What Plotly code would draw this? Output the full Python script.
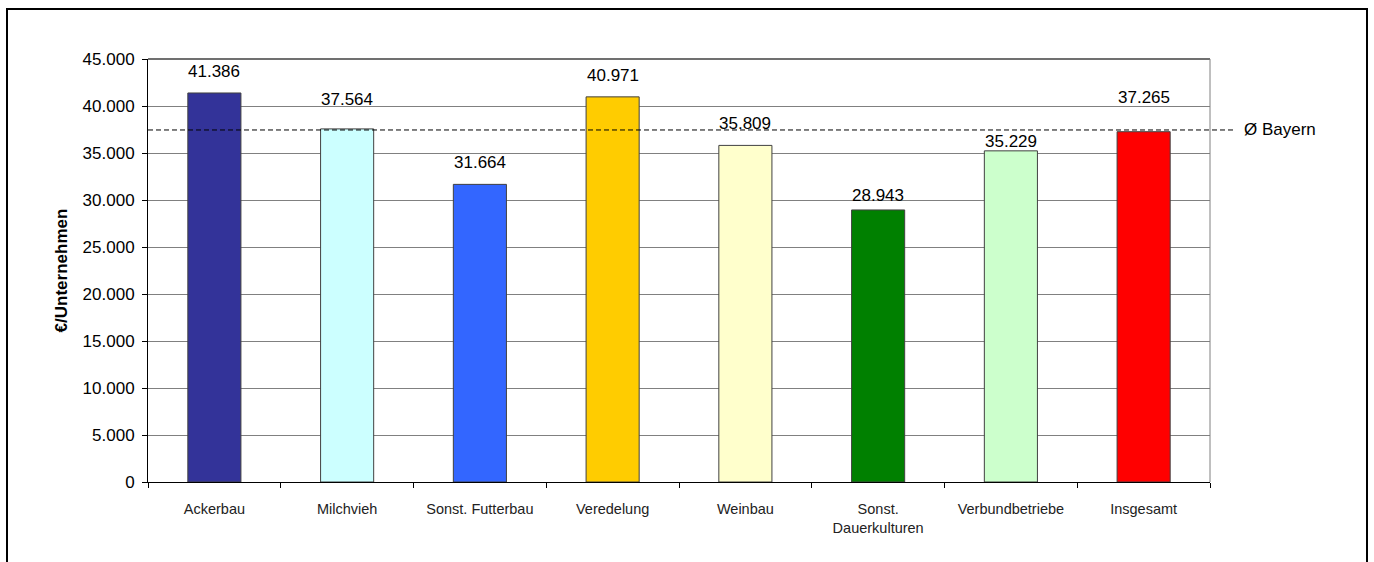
import plotly.graph_objects as go

categories = ["Ackerbau", "Milchvieh", "Sonst. Futterbau", "Veredelung", "Weinbau",
              "Sonst.<br>Dauerkulturen", "Verbundbetriebe", "Insgesamt"]
values = [41386, 37564, 31664, 40971, 35809, 28943, 35229, 37265]
bar_colors = ["#333399", "#CCFFFF", "#3366FF", "#FFCC00", "#FFFFCC", "#008000", "#CCFFCC", "#FF0000"]
bayern_avg = 37450
y_ticks = [0, 5000, 10000, 15000, 20000, 25000, 30000, 35000, 40000, 45000]
y_ticklabels = ["0", "5.000", "10.000", "15.000", "20.000", "25.000", "30.000", "35.000", "40.000", "45.000"]
label_offsets_px = [21, 29, 22, 21, 22, 14, 9, 34]

W, H = 1374, 562
L, R, T, B = 148, 164, 59, 80
pw, ph = W - L - R, H - T - B

def px_x(p):
    return (p - L) / pw

def px_y(p):
    return (H - B - p) / ph

def fmt(v):
    return f"{v:,}".replace(",", ".")

FONT = "Liberation Sans, Arial, sans-serif"

fig = go.Figure()
fig.add_trace(go.Bar(
    x=categories, y=values,
    marker=dict(color=bar_colors, line=dict(color="#404040", width=1)),
    width=0.4, hoverinfo="x+y",
))

annotations = []
for c, v, off in zip(categories, values, label_offsets_px):
    annotations.append(dict(x=c, y=v, xref="x", yref="y", text=fmt(v), showarrow=False,
                            yanchor="middle", yshift=off,
                            font=dict(family=FONT, size=17, color="#000000")))
annotations.append(dict(x=px_x(1242), y=bayern_avg, xref="paper", yref="y", text="Ø Bayern",
                        showarrow=False, xanchor="left", yanchor="middle",
                        font=dict(family=FONT, size=17, color="#000000")))

shapes = [
    dict(type="line", xref="paper", yref="y", x0=0, x1=px_x(1233), y0=bayern_avg, y1=bayern_avg,
         line=dict(color="#000000", width=1, dash="5px,3px"), layer="above"),
    dict(type="line", xref="paper", yref="paper", x0=0, x1=1, y0=1, y1=1,
         line=dict(color="#404040", width=1.5), layer="above"),
    dict(type="line", xref="paper", yref="paper", x0=1, x1=1, y0=0, y1=1,
         line=dict(color="#808080", width=1), layer="above"),
    dict(type="rect", xref="paper", yref="paper", x0=px_x(7), x1=px_x(1367), y0=px_y(9), y1=px_y(575),
         line=dict(color="#000000", width=2), layer="above"),
]

fig.update_layout(
    width=W, height=H,
    margin=dict(l=L, r=R, t=T, b=B, pad=0),
    paper_bgcolor="white", plot_bgcolor="white",
    showlegend=False,
    bargap=0.6,
    annotations=annotations,
    shapes=shapes,
    font=dict(family=FONT, size=17, color="#000000"),
)
fig.update_yaxes(
    range=[0, 45000], tickvals=y_ticks, ticktext=y_ticklabels,
    showgrid=True, gridcolor="#808080", gridwidth=1,
    showline=True, linecolor="#000000", linewidth=1,
    ticks="outside", ticklen=5, tickcolor="#000000", ticklabelstandoff=4,
    tickfont=dict(family=FONT, size=17, color="#000000"),
    title=dict(text="<b>€/Unternehmen</b>", standoff=10,
               font=dict(family=FONT, size=17, color="#000000")),
    zeroline=False, fixedrange=True, automargin=False,
)
fig.update_xaxes(
    showline=True, linecolor="#000000", linewidth=1,
    ticks="outside", ticklen=5, tickcolor="#000000", tickson="boundaries",
    ticklabelstandoff=14,
    tickfont=dict(family=FONT, size=14.5, color="#222222"),
    tickangle=0, fixedrange=True, automargin=False,
)

fig.write_html("out.html", config={"displayModeBar": False},
               post_script="document.body.style.margin='0px';document.body.style.overflow='hidden';")
